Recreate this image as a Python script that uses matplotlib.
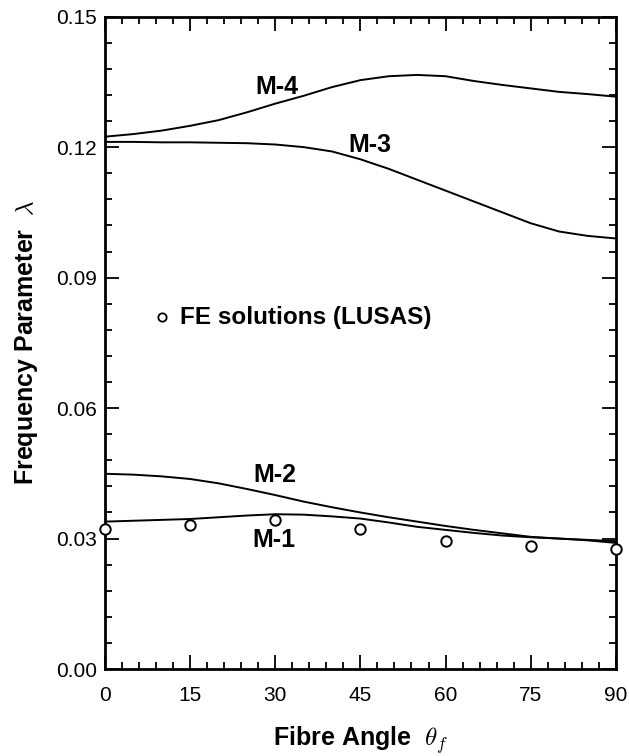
import numpy as np
import matplotlib
matplotlib.use('Agg')
import matplotlib.pyplot as plt
from matplotlib.ticker import MultipleLocator, FormatStrFormatter

plt.rcParams['font.family'] = ['Liberation Sans', 'DejaVu Sans']
plt.rcParams['mathtext.fontset'] = 'cm'

# fibre angle (deg) for the curves
angle = [0, 5, 10, 15, 20, 25, 30, 35, 40, 45, 50, 55, 60, 65, 70, 75, 80, 85, 90]

m1 = [0.0339, 0.0341, 0.0343, 0.0345, 0.0349, 0.0353, 0.0356, 0.0355, 0.0351, 0.0346,
      0.0337, 0.0327, 0.0320, 0.0313, 0.0307, 0.0303, 0.0300, 0.0296, 0.0290]
m2 = [0.0449, 0.0447, 0.0443, 0.0437, 0.0427, 0.0414, 0.0400, 0.0385, 0.0372, 0.0360,
      0.0349, 0.0339, 0.0329, 0.0320, 0.0312, 0.0304, 0.0300, 0.0297, 0.0294]
m3 = [0.1212, 0.1212, 0.1211, 0.1211, 0.1210, 0.1209, 0.1206, 0.1200, 0.1190, 0.1172,
      0.1150, 0.1125, 0.1100, 0.1075, 0.1050, 0.1025, 0.1006, 0.0996, 0.0990]
m4 = [0.1224, 0.1230, 0.1238, 0.1249, 0.1262, 0.1280, 0.1300, 0.1318, 0.1338, 0.1354,
      0.1363, 0.1366, 0.1363, 0.1352, 0.1343, 0.1335, 0.1327, 0.1322, 0.1316]

# FE solutions (LUSAS)
fe_angle = [0, 15, 30, 45, 60, 75, 90]
fe_val = [0.0322, 0.0331, 0.0343, 0.0322, 0.0294, 0.0282, 0.0276]

# curve labels: text, x, y
labels = [('M-4', 30.2, 0.1338), ('M-3', 46.6, 0.1205),
          ('M-2', 29.9, 0.0446), ('M-1', 29.7, 0.0297)]

fig = plt.figure(figsize=(6.29, 7.56), dpi=100)
ax = fig.add_axes([0.167, 0.115, 0.812, 0.863])

for curve in (m1, m2, m3, m4):
    ax.plot(angle, curve, color='black', lw=1.4)

ax.plot(fe_angle, fe_val, 'o', mfc='white', mec='black', ms=7.5, mew=1.4,
        clip_on=False, zorder=5)

for txt, x, y in labels:
    ax.text(x, y, txt, ha='center', va='center', fontsize=18, fontweight='bold')

# legend drawn as a marker plus text
ax.plot([10], [0.0809], 'o', mfc='white', mec='black', ms=6, mew=1.3)
ax.text(13.2, 0.0809, 'FE solutions (LUSAS)', ha='left', va='center',
        fontsize=17.5, fontweight='bold')

ax.set_xlim(0, 90)
ax.set_ylim(0, 0.15)
ax.xaxis.set_major_locator(MultipleLocator(15))
ax.xaxis.set_minor_locator(MultipleLocator(3))
ax.yaxis.set_major_locator(MultipleLocator(0.03))
ax.yaxis.set_minor_locator(MultipleLocator(0.006))
ax.yaxis.set_major_formatter(FormatStrFormatter('%.2f'))

ax.tick_params(which='both', direction='in', top=True, right=True, width=1.3)
ax.tick_params(which='major', length=10)
ax.tick_params(which='minor', length=5)
ax.tick_params(axis='x', pad=12, labelsize=15)
ax.tick_params(axis='y', pad=6, labelsize=15)
for sp in ax.spines.values():
    sp.set_linewidth(2)

ax.set_xlabel(r'Fibre Angle  $\theta_f$', fontsize=18, fontweight='bold')
ax.set_ylabel(r'Frequency Parameter  $\lambda$', fontsize=18, fontweight='bold')
ax.xaxis.set_label_coords(0.5, -0.085)
ax.yaxis.set_label_coords(-0.128, 0.5)

fig.savefig('out.png', dpi=100)
